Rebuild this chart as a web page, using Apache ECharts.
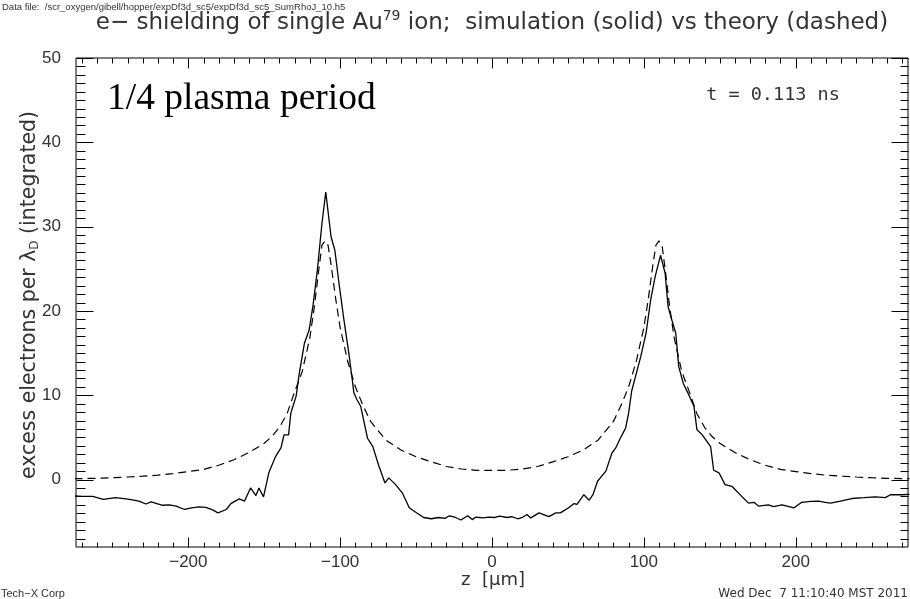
<!DOCTYPE html>
<html><head><meta charset="utf-8">
<script src="https://cdn.jsdelivr.net/npm/echarts@6/dist/echarts.min.js"></script>
<style>html,body{margin:0;padding:0;background:#fff}#c{width:910px;height:599px}</style>
</head><body><div id="c"></div>
<script>
// ---- data ----
const simZ = [-275,-270,-263,-256,-248,-241,-236,-232,-228,-224.5,-217,-212.5,-208,-202.5,-198,-193,-188.5,-184,-180.5,-175,-172,-166.5,-163,-159,-155.5,-153.5,-150.5,-147,-142.5,-139,-137,-134,-132.5,-129,-127,-123.5,-120.5,-118,-115,-112,-109.5,-106,-103.5,-100.5,-97.5,-94,-92,-91,-89,-86.5,-82,-78.5,-74.5,-70.5,-68,-63.5,-59,-54.5,-50,-45,-40,-35,-31,-28,-24,-20.5,-16,-13,-10.5,-6,-2,2,5,10,13,17,20,23,25.5,31,34,37.5,42,45,50.5,54,56,60.5,64,66.5,69.5,75,79,81.5,84.5,88,90,92,94.5,98,101.5,104.5,107.5,111,114,116,118.5,121,123,126,129.5,133,135,138.5,144,146,149.5,153.5,158,164.5,169,172.5,175.5,182,185.5,191,199,204,210,215,219.5,223,229.5,237,245,252.5,259,262.5,270,275];
const simV = [-1.95,-2.0,-2.0,-2.35,-2.15,-2.3,-2.45,-2.6,-2.9,-2.65,-3.05,-3.0,-3.15,-3.55,-3.35,-3.25,-3.3,-3.6,-3.95,-3.55,-2.85,-2.3,-2.55,-1.0,-1.9,-1.0,-2.05,0.8,2.75,3.75,5.3,5.3,7.9,9.9,12.5,16.2,17.7,20.5,24.9,30.4,34.1,28.8,27.2,22.9,18.9,14.6,11.8,10.3,9.5,8.7,4.9,3.9,1.6,-0.4,0.2,-0.6,-1.6,-3.35,-3.9,-4.5,-4.65,-4.5,-4.6,-4.3,-4.5,-4.8,-4.3,-4.75,-4.45,-4.55,-4.45,-4.5,-4.35,-4.5,-4.4,-4.65,-4.5,-4.15,-4.55,-3.95,-4.15,-4.4,-3.95,-3.95,-3.35,-2.85,-2.95,-1.8,-2.45,-1.8,-0.2,1.0,3.15,3.75,4.9,6.1,7.9,10.5,12.2,14.6,17.4,21.3,24.1,26.6,24.5,20.5,18.9,17.4,13.4,11.4,10.1,8.7,5.9,5.3,3.9,1.1,0.8,-0.6,-0.8,-2.0,-2.8,-2.7,-3.15,-3.0,-3.2,-3.0,-3.35,-2.7,-2.6,-2.55,-2.7,-2.8,-2.55,-2.25,-2.15,-2.05,-2.15,-1.8,-1.8,-1.75];
const theoryZ = [-275,-260,-250,-240,-230,-220,-210,-200,-190,-180,-170,-160,-150,-145,-140,-135,-130,-125,-120,-117,-114,-112,-110,-108,-106,-103,-100,-95,-90,-85,-80,-70,-60,-50,-40,-30,-20,-10,0,10,20,30,40,50,60,70,80,85,90,95,100,103,106,108,110,112,114,117,120,125,130,135,140,145,150,160,170,180,190,200,210,220,230,240,250,260,275];
const theoryV = [0.1,0.15,0.22,0.3,0.4,0.52,0.7,0.95,1.2,1.7,2.35,3.2,4.3,5.1,6.2,7.8,10.4,12.8,16.8,20.5,25.0,27.8,28.3,27.8,25.5,21.5,18.0,14.0,11.0,8.8,6.9,4.7,3.5,2.7,2.1,1.55,1.25,1.1,1.08,1.1,1.25,1.55,2.1,2.7,3.5,4.7,6.9,8.8,11.0,14.0,18.0,21.5,25.5,27.8,28.3,27.8,25.0,20.5,16.8,12.8,10.4,7.8,6.2,5.1,4.3,3.2,2.35,1.7,1.2,0.95,0.7,0.52,0.4,0.3,0.22,0.15,0.1];
const xTickValues = [-200,-100,0,100,200];
const xTickLabels = ['\u2212200','\u2212100','0','100','200'];
const yTickValues = [0,10,20,30,40,50];
const yTickLabels = ['0','10','20','30','40','50'];
const xRange = [-274, 274];
const yRange = [-8, 50];

const simData = simZ.map((z,i)=>[z, simV[i]]);
const theoryData = theoryZ.map((z,i)=>[z, theoryV[i]]);

const xMinor = []; for (let v=-270; v<=270; v+=10) if (v%100!==0) xMinor.push(v);
const yMinor = []; for (let v=-7; v<50; v+=1) if (v%10!==0) yMinor.push(v);

const FONT = '"Liberation Sans", "DejaVu Sans", sans-serif';
const WIDE = '"DejaVu Sans", "Liberation Sans", sans-serif';
const TXT = '#333';

function renderFrame(params, api) {
  const ch = [];
  const st = {stroke:'#000', lineWidth:1};
  const r = v => Math.round(v) + 0.5;
  const add = (x1,y1,x2,y2) => ch.push({type:'line', shape:{x1:r(x1),y1:r(y1),x2:r(x2),y2:r(y2)}, style:st, silent:true});
  const xt = (vals, len) => vals.forEach(v => {
    const b = api.coord([v, yRange[0]]), t = api.coord([v, yRange[1]]);
    add(b[0], b[1], b[0], b[1]-len); add(t[0], t[1], t[0], t[1]+len);
  });
  const yt = (vals, len) => vals.forEach(v => {
    const l = api.coord([xRange[0], v]), rr = api.coord([xRange[1], v]);
    add(l[0], l[1], l[0]+len, l[1]); add(rr[0], rr[1], rr[0]-len, rr[1]);
  });
  xt(xTickValues, 10); xt(xMinor, 5);
  yt(yTickValues, 17); yt(yMinor, 8.5);
  xTickValues.forEach((v,i) => {
    const p = api.coord([v, yRange[0]]);
    ch.push({type:'text', x:p[0], y:p[1]+15, silent:true, style:{text:xTickLabels[i], fill:TXT, font:'17px '+FONT, align:'center', verticalAlign:'middle'}});
  });
  yTickValues.forEach((v,i) => {
    const p = api.coord([xRange[0], v]);
    ch.push({type:'text', x:p[0]-15, y:p[1], silent:true, style:{text:yTickLabels[i], fill:TXT, font:'17px '+FONT, align:'right', verticalAlign:'middle'}});
  });
  return {type:'group', children:ch};
}

const chart = echarts.init(document.getElementById('c'), null, {renderer:'canvas'});
chart.setOption({
  animation:false,
  backgroundColor:'#fff',
  grid:{left:76, right:2, top:58, bottom:52, show:true, borderColor:'#000', borderWidth:1, backgroundColor:'transparent'},
  xAxis:{type:'value', min:xRange[0], max:xRange[1], show:false},
  yAxis:{type:'value', min:yRange[0], max:yRange[1], show:false},
  series:[
    {type:'line', data:theoryData, showSymbol:false, symbol:'none', lineStyle:{color:'#000', width:1.2, type:[8,5]}, silent:true},
    {type:'line', data:simData, showSymbol:false, symbol:'none', lineStyle:{color:'#000', width:1.3}, silent:true},
    {type:'custom', renderItem:renderFrame, data:[[0,0]], clip:false, silent:true, z:5}
  ],
  graphic:[
    {type:'text', left:2, top:2, style:{text:'Data file:  /scr_oxygen/gibell/hopper/expDf3d_sc5/expDf3d_sc5_SumRhoJ_10.h5', fill:TXT, font:'9.5px '+FONT}},
    {type:'text', x:492, y:23, style:{text:'e\u2212 shielding of single Au{sup|79} ion;  simulation (solid) vs theory (dashed)', fill:TXT, font:'23px '+WIDE, align:'center', verticalAlign:'middle', rich:{sup:{fontSize:14, verticalAlign:'top', padding:[0,0,14,0], fill:TXT, fontFamily:WIDE}}}},
    {type:'text', x:107, y:99, style:{text:'1/4 plasma period', fill:'#000', font:'37.5px "Liberation Serif", "DejaVu Serif", serif', align:'left', verticalAlign:'middle'}},
    {type:'text', x:773, y:95, style:{text:'t = 0.113 ns', fill:TXT, font:'18.5px "DejaVu Sans Mono", monospace', align:'center', verticalAlign:'middle'}},
    {type:'text', x:30, y:295, rotation:Math.PI/2, style:{text:'excess electrons per \u03bb{sub|D} (integrated)', fill:TXT, font:'20.5px '+WIDE, align:'center', verticalAlign:'middle', rich:{sub:{fontSize:12, padding:[10,0,0,0], fill:TXT, fontFamily:WIDE}}}},
    {type:'text', x:493, y:580, style:{text:'z  [\u03bcm]', fill:TXT, font:'18px '+WIDE, align:'center', verticalAlign:'middle'}},
    {type:'text', x:1, y:594, style:{text:'Tech\u2212X Corp', fill:TXT, font:'11px '+FONT, align:'left', verticalAlign:'middle'}},
    {type:'text', x:908, y:594, style:{text:'Wed Dec  7 11:10:40 MST 2011', fill:TXT, font:'12px '+WIDE, align:'right', verticalAlign:'middle'}}
  ]
});
</script></body></html>
